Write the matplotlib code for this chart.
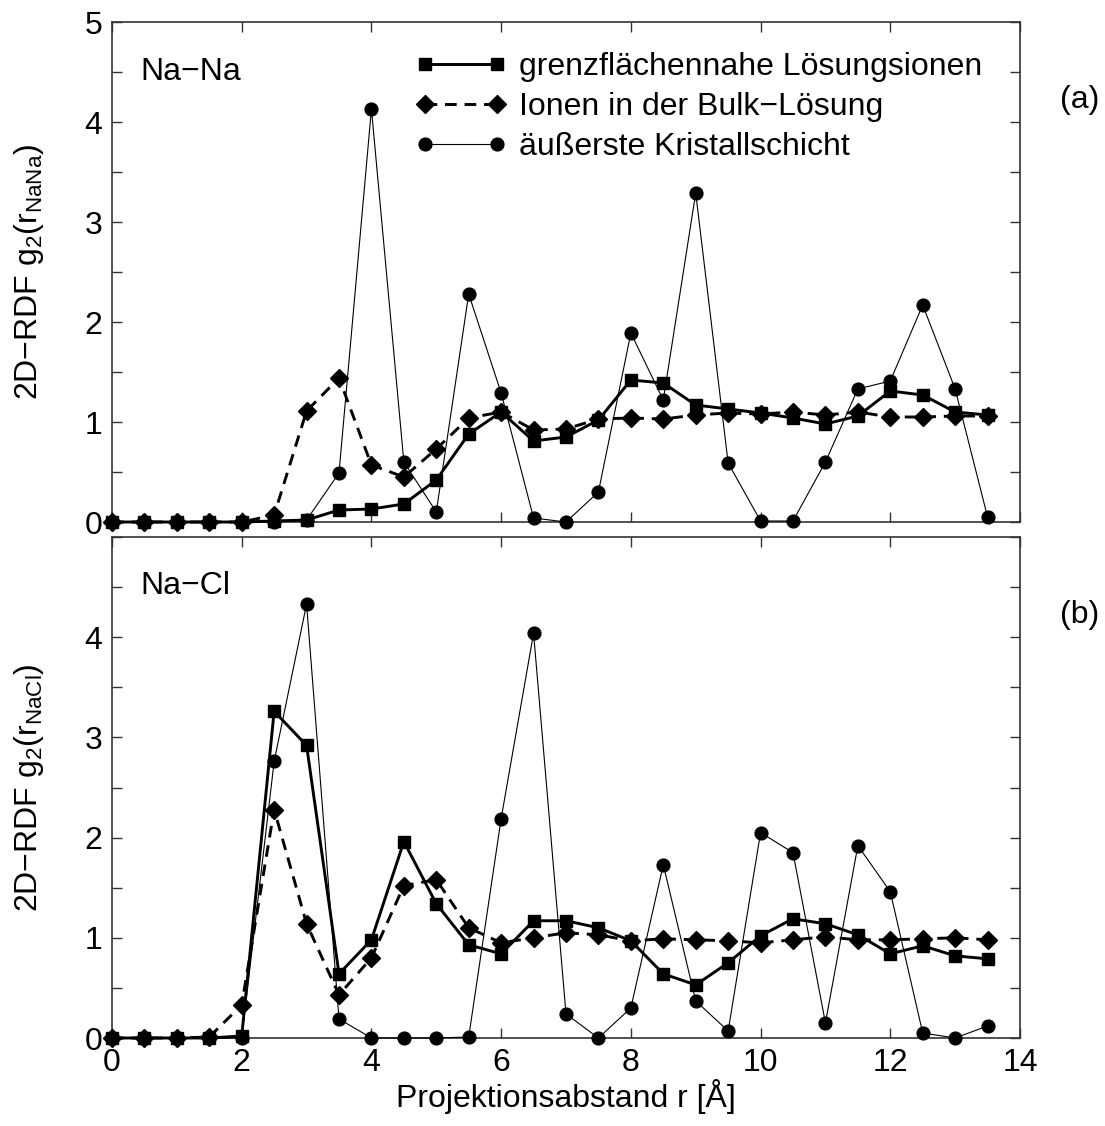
import numpy as np
import matplotlib
matplotlib.use("Agg")
import matplotlib.pyplot as plt
from matplotlib.ticker import MultipleLocator

plt.rcParams['font.family'] = ['Liberation Sans', 'DejaVu Sans']
plt.rcParams['mathtext.default'] = 'regular'

r = np.arange(0, 14, 0.5)

# Panel (a) Na-Na
nana_grenz = [0, 0, 0, 0, 0, 0.01, 0.02, 0.12, 0.13, 0.18, 0.42, 0.88, 1.10, 0.81,
              0.85, 1.02, 1.42, 1.39, 1.17, 1.13, 1.09, 1.04, 0.98, 1.06, 1.31, 1.27, 1.10, 1.07]
nana_bulk = [0, 0, 0, 0, 0, 0.07, 1.11, 1.44, 0.57, 0.45, 0.73, 1.04, 1.10, 0.92,
             0.93, 1.03, 1.04, 1.03, 1.07, 1.09, 1.08, 1.10, 1.07, 1.10, 1.05, 1.05, 1.06, 1.06]
nana_kristall = [0, 0, 0, 0, 0, 0, 0.02, 0.49, 4.13, 0.60, 0.10, 2.28, 1.29, 0.04,
                 0.00, 0.30, 1.89, 1.22, 3.29, 0.59, 0.01, 0.01, 0.60, 1.33, 1.41, 2.17, 1.33, 0.05]

# Panel (b) Na-Cl
nacl_grenz = [0, 0, 0, 0, 0.02, 3.26, 2.92, 0.64, 0.98, 1.96, 1.34, 0.93, 0.84, 1.17,
              1.17, 1.10, 0.97, 0.64, 0.53, 0.75, 1.02, 1.19, 1.14, 1.03, 0.84, 0.92, 0.82, 0.79]
nacl_bulk = [0, 0, 0, 0.01, 0.33, 2.28, 1.14, 0.43, 0.80, 1.52, 1.58, 1.10, 0.95, 1.00,
             1.05, 1.03, 0.97, 0.99, 0.98, 0.97, 0.95, 0.98, 1.01, 0.98, 0.98, 0.99, 1.00, 0.98]
nacl_kristall = [0, 0, 0, 0, 0, 2.76, 4.33, 0.19, 0.00, 0.00, 0.00, 0.01, 2.19, 4.04,
                 0.24, 0.00, 0.30, 1.73, 0.37, 0.07, 2.05, 1.85, 0.15, 1.92, 1.46, 0.05, 0.00, 0.12]

labels = ["grenzflächennahe Lösungsionen", "Ionen in der Bulk\u2212Lösung", "äußerste Kristallschicht"]

W, H = 1105, 1126
fig = plt.figure(figsize=(W / 100, H / 100), dpi=100)
left, right = 112 / W, 1020 / W
ax1 = fig.add_axes([left, 1 - 522 / H, right - left, 500 / H])
ax2 = fig.add_axes([left, 1 - 1038 / H, right - left, 501 / H])

fs = 23

def draw(ax, g, b, k):
    l1, = ax.plot(r, g, '-', color='black', lw=2.1, marker='s', ms=8.6, clip_on=False, zorder=4)
    l2, = ax.plot(r, b, '--', color='black', lw=2.1, marker='D', ms=9, dashes=(4, 2.7),
                  clip_on=False, zorder=3)
    l3, = ax.plot(r, k, '-', color='black', lw=0.8, marker='o', ms=9.2, clip_on=False, zorder=5)
    ax.set_xlim(0, 14)
    ax.set_ylim(0, 5)
    ax.xaxis.set_major_locator(MultipleLocator(2))
    ax.yaxis.set_major_locator(MultipleLocator(1))
    ax.yaxis.set_minor_locator(MultipleLocator(0.5))
    ax.tick_params(which='both', direction='in', top=True, right=True, length=7.5, width=1,
                   labelsize=fs, color='#333333', pad=7)
    for s in ax.spines.values():
        s.set_linewidth(1.2)
        s.set_color('#333333')
    return l1, l2, l3

h = draw(ax1, nana_grenz, nana_bulk, nana_kristall)
draw(ax2, nacl_grenz, nacl_bulk, nacl_kristall)

ax1.set_xticklabels([])
ax2.set_yticks([0, 1, 2, 3, 4])

ax1.text(0.43, 4.5, "Na\u2212Na", fontsize=fs, ha='left', va='center')
ax2.text(0.43, 4.51, "Na\u2212Cl", fontsize=fs, ha='left', va='center')

ax1.set_ylabel("2D\u2212RDF g$_2$(r$_{NaNa}$)", fontsize=fs, labelpad=28)
ax2.set_ylabel("2D\u2212RDF g$_2$(r$_{NaCl}$)", fontsize=fs, labelpad=28)
ax2.set_xlabel("Projektionsabstand r [Å]", fontsize=fs, labelpad=1)

fig.text(1080 / W, 1 - 100 / H, "(a)", fontsize=fs, ha='center', va='center')
fig.text(1080 / W, 1 - 615 / H, "(b)", fontsize=fs, ha='center', va='center')

ax1.legend(h, labels, loc='upper left', bbox_to_anchor=((415 - 112) / 908, (522 - 52) / 500),
           frameon=False, numpoints=2, handlelength=2.88, handletextpad=0.375,
           labelspacing=0.31, fontsize=fs, borderaxespad=0, borderpad=0)

fig.savefig("out.png", dpi=100)
